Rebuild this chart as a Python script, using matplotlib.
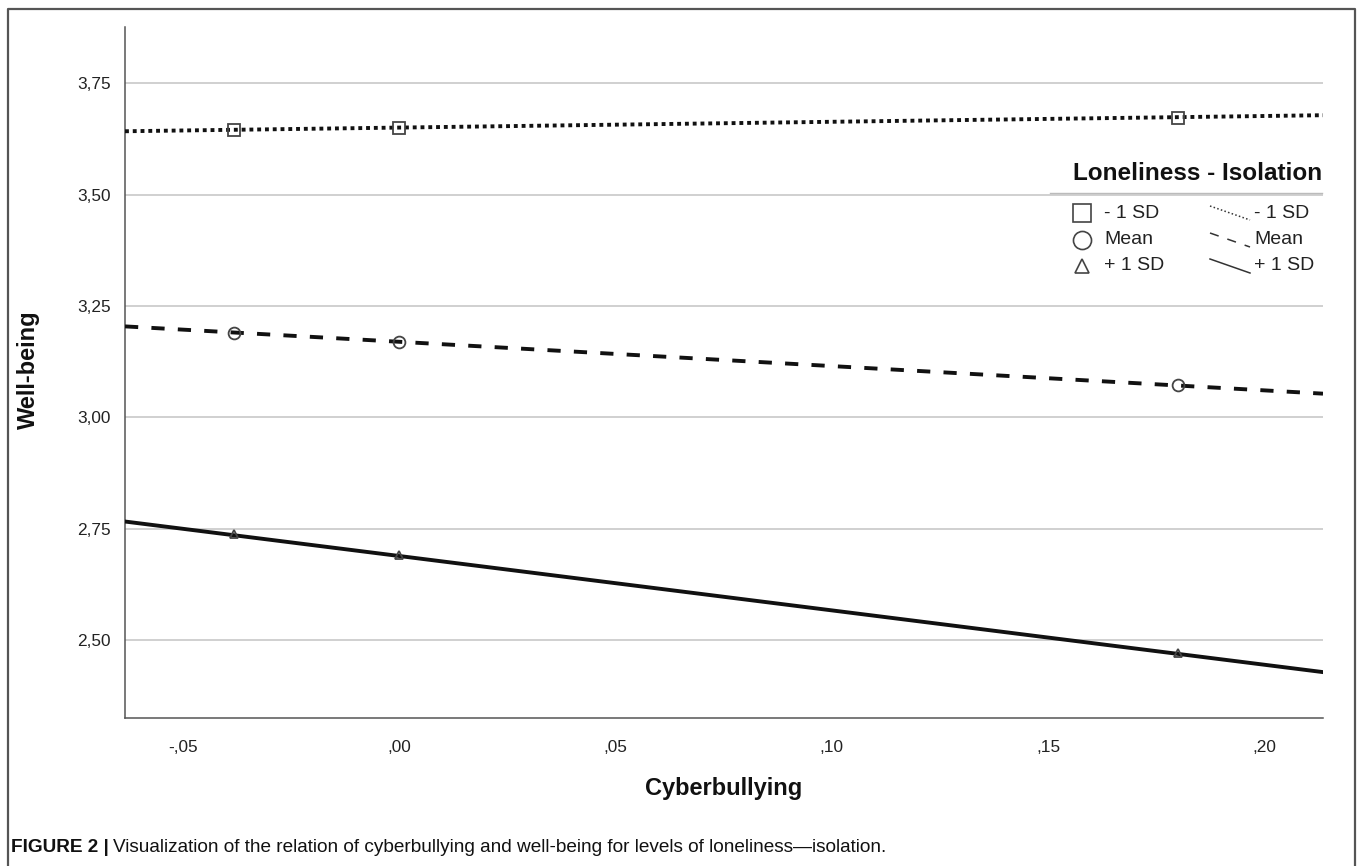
import matplotlib
matplotlib.use('Agg')
import matplotlib.pyplot as plt
from matplotlib.lines import Line2D
from matplotlib.ticker import FuncFormatter

plt.rcParams['font.family'] = ['Liberation Sans', 'DejaVu Sans']

# 数据: 三个水平 (-1 SD / Mean / +1 SD) 的拟合线与点
x_points = [-0.038, 0.0, 0.180]
minus_sd = [3.645, 3.649, 3.672]
mean_sd = [3.189, 3.169, 3.073]
plus_sd = [2.737, 2.691, 2.470]

x_line = [-0.0633, 0.2135]
minus_line = [3.642, 3.678]
mean_line = [3.204, 3.053]
plus_line = [2.766, 2.428]

x_ticks = [-0.05, 0.0, 0.05, 0.10, 0.15, 0.20]
y_ticks = [2.50, 2.75, 3.00, 3.25, 3.50, 3.75]

W, H = 1357, 866
fig = plt.figure(figsize=(W / 100, H / 100), dpi=100)


def fx(px):
    return px / W


def fy(py):
    return 1 - py / H


ax = fig.add_axes([fx(125), fy(718), fx(1323) - fx(125), fy(27) - fy(718)])

ink = '#111111'
edge = '#444444'

# 拟合线
ax.plot(x_line, minus_line, color=ink, lw=2.8, linestyle=(0, (1, 1)),
        dash_capstyle='butt', zorder=3)
ax.plot(x_line, mean_line, color=ink, lw=2.8, linestyle=(0, (3.4, 3.4)),
        dash_capstyle='butt', zorder=3)
ax.plot(x_line, plus_line, color=ink, lw=2.8, linestyle='-', zorder=3)

# 点
ax.plot(x_points, minus_sd, linestyle='none', marker='s', ms=8.5,
        mfc='none', mec=edge, mew=1.3, zorder=4)
ax.plot(x_points, mean_sd, linestyle='none', marker='o', ms=8.5,
        mfc='none', mec=edge, mew=1.3, zorder=4)
ax.plot(x_points, plus_sd, linestyle='none', marker='^', ms=6,
        mfc='none', mec=edge, mew=1.3, zorder=4)

ax.set_xlim(x_line[0], x_line[1])
ax.set_ylim(2.325, 3.876)
ax.set_xticks(x_ticks)
ax.set_yticks(y_ticks)


def spss_fmt(v, pos, nd=2):
    s = f'{v:.{nd}f}'.replace('.', ',')
    if s.startswith('0,'):
        s = s[1:]
    elif s.startswith('-0,'):
        s = '-' + s[2:]
    return s


ax.xaxis.set_major_formatter(FuncFormatter(lambda v, p: spss_fmt(v, p)))
ax.yaxis.set_major_formatter(FuncFormatter(lambda v, p: spss_fmt(v, p)))
ax.tick_params(axis='both', length=0, labelsize=12.4, colors='#222222')
ax.tick_params(axis='y', pad=10)
ax.tick_params(axis='x', pad=16)

ax.grid(axis='y', color='#c4c4c4', lw=1.1)
ax.set_axisbelow(True)
for s in ['top', 'right']:
    ax.spines[s].set_visible(False)
for s in ['left', 'bottom']:
    ax.spines[s].set_color('#555555')
    ax.spines[s].set_linewidth(1.1)

fig.text(fx(28), fy(370), 'Well-being', rotation=90, fontsize=17,
         fontweight='bold', ha='center', va='center', color=ink)
fig.text(fx(724), fy(788), 'Cyberbullying', fontsize=17,
         fontweight='bold', ha='center', va='center', color=ink)

# 图例 (手动绘制)
fig.text(fx(1322), fy(173), 'Loneliness - Isolation', fontsize=17.5,
         fontweight='bold', ha='right', va='center', color=ink)
fig.add_artist(Line2D([fx(1050), fx(1322)], [fy(193), fy(193)],
                      transform=fig.transFigure, color='#bbbbbb', lw=1.0))

rows = [213, 240, 266]
labels = ['- 1 SD', 'Mean', '+ 1 SD']
leg_markers = [('s', 13), ('o', 13), ('^', 10)]
leg_styles = [(0, (1, 1.5)), (0, (6, 6)), '-']
for r, lab, (mk, ms), ls in zip(rows, labels, leg_markers, leg_styles):
    fig.add_artist(Line2D([fx(1082)], [fy(r)], transform=fig.transFigure,
                          linestyle='none', marker=mk, ms=ms, mfc='none',
                          mec=edge, mew=1.2))
    fig.text(fx(1104), fy(r), lab, fontsize=14, ha='left', va='center',
             color='#222222')
    fig.add_artist(Line2D([fx(1210), fx(1250)], [fy(r - 7), fy(r + 7)],
                          transform=fig.transFigure, color='#333333',
                          lw=1.1, linestyle=ls))
    fig.text(fx(1254), fy(r), lab, fontsize=14, ha='left', va='center',
             color='#222222')

# 外框
frame_c = '#555555'
fig.add_artist(Line2D([fx(8), fx(8), fx(1355), fx(1355)],
                      [0, fy(9), fy(9), 0], transform=fig.transFigure,
                      color=frame_c, lw=1.6))

# 图注
cap_font = ['Liberation Sans Narrow', 'Liberation Sans', 'DejaVu Sans']
t1 = fig.text(fx(11), fy(848), 'FIGURE 2 |', fontsize=13.7, fontweight='bold',
              family=cap_font, ha='left', va='center', color='#111111')
fig.canvas.draw()
bb = t1.get_window_extent(renderer=fig.canvas.get_renderer())
fig.text(bb.x1 / W + fx(4), fy(848),
         'Visualization of the relation of cyberbullying and well-being '
         'for levels of loneliness\u2014isolation.',
         fontsize=13.7, family=cap_font, ha='left', va='center',
         color='#111111')

fig.savefig('out.png', dpi=100)
